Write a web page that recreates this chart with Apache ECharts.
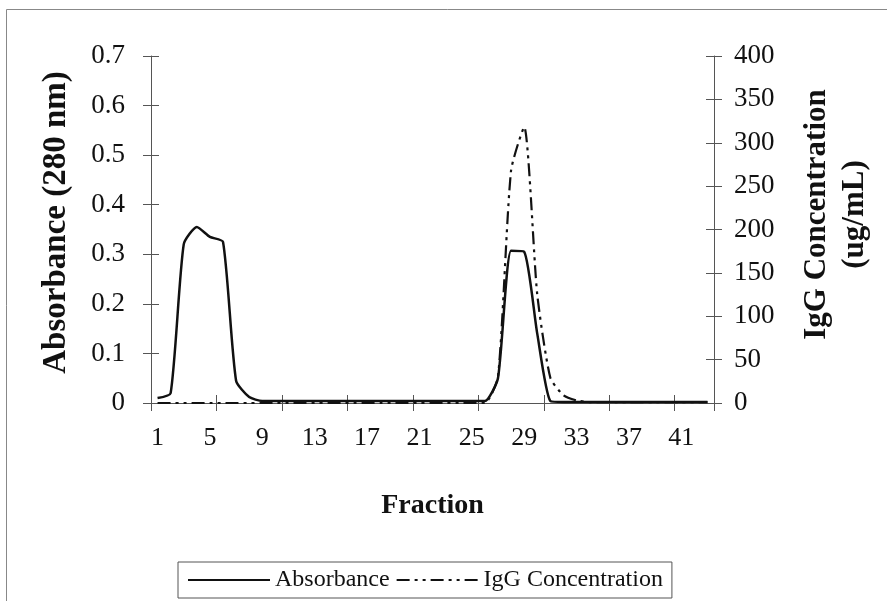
<!DOCTYPE html>
<html>
<head>
<meta charset="utf-8">
<script src="https://cdn.jsdelivr.net/npm/echarts@6/dist/echarts.min.js"></script>
<style>
html,body{margin:0;padding:0;background:#fff;}
#chart{width:887px;height:601px;}
</style>
</head>
<body>
<div id="chart"></div>
<script>
// Data
const fractions = [];
for (let i = 1; i <= 43; i++) fractions.push(String(i));
const absorbance = [0.01, 0.02, 0.32, 0.355, 0.335, 0.325, 0.045, 0.012, 0.004, 0.004,
  0.004, 0.004, 0.004, 0.004, 0.004, 0.004, 0.004, 0.004, 0.004, 0.004,
  0.004, 0.004, 0.004, 0.004, 0.004, 0.004, 0.05, 0.307, 0.305, 0.14,
  0.004, 0.002, 0.002, 0.002, 0.002, 0.002, 0.002, 0.002, 0.002, 0.002,
  0.002, 0.002, 0.002];
const igg = [0, 0, 0, 0, 0, 0, 0, 0, 0, 0,
  0, 0, 0, 0, 0, 0, 0, 0, 0, 0,
  0, 0, 0, 0, 0, 0, 30, 268, 318, 125,
  29, 9, 3, 1, 1, 1, 1, 1, 1, 1,
  1, 1, 1];
const seriesNames = ['Absorbance', 'IgG Concentration'];
const leftTitle = 'Absorbance (280 nm)';
const rightTitle = 'IgG Concentration\n(ug/mL)';
const xTitle = 'Fraction';

const FONT = '"Liberation Serif", "Times New Roman", serif';
const axisColor = '#555';

const chart = echarts.init(document.getElementById('chart'), null, {renderer: 'canvas'});
const option = {
  backgroundColor: '#fff',
  animation: false,
  graphic: [{
    type: 'rect', silent: true,
    shape: {x: 6.5, y: 9.5, width: 1000, height: 700},
    style: {fill: 'none', stroke: '#888', lineWidth: 1}
  }],
  grid: {left: 151, right: 173, top: 56, bottom: 198},
  legend: {
    left: 178, top: 562,
    padding: [6, 9, 6, 9],
    itemWidth: 82, itemHeight: 14, itemGap: 6,
    borderColor: '#555', borderWidth: 1,
    itemStyle: {color: 'rgba(0,0,0,0)', borderColor: 'rgba(0,0,0,0)', borderWidth: 0, opacity: 0},
    textStyle: {fontFamily: FONT, fontSize: 24, color: '#111'},
    data: seriesNames
  },
  xAxis: [{
    type: 'category', data: fractions, boundaryGap: true,
    name: xTitle, nameLocation: 'middle', nameGap: 89,
    nameTextStyle: {fontFamily: FONT, fontSize: 28, fontWeight: 'bold', color: '#111'},
    axisLine: {show: true, lineStyle: {color: axisColor, width: 1}},
    axisTick: {show: true, interval: 4, length: 8, lineStyle: {color: axisColor}},
    axisLabel: {interval: 3, margin: 22, fontFamily: FONT, fontSize: 26, color: '#111'},
    splitLine: {show: false}
  }, {
    type: 'category', data: fractions, boundaryGap: true, position: 'bottom',
    axisLine: {show: false},
    axisTick: {show: true, inside: true, interval: 4, length: 8, lineStyle: {color: axisColor}},
    axisLabel: {show: false}, splitLine: {show: false}
  }],
  yAxis: [{
    type: 'value', min: 0, max: 0.7, interval: 0.1, position: 'left',
    name: leftTitle, nameLocation: 'middle', nameGap: 78, nameRotate: 90,
    nameTextStyle: {fontFamily: FONT, fontSize: 33, fontWeight: 'bold', color: '#111',
      padding: [0, 0, 0, 14]},
    axisLine: {show: true, lineStyle: {color: axisColor, width: 1}},
    axisTick: {show: true, length: 8, lineStyle: {color: axisColor}},
    axisLabel: {margin: 26, fontFamily: FONT, fontSize: 27, color: '#111',
      formatter: v => (v === 0 ? '0' : v.toFixed(1))},
    splitLine: {show: false}
  }, {
    type: 'value', min: 0, max: 400, interval: 50, position: 'right',
    name: rightTitle, nameLocation: 'middle', nameGap: 84, nameRotate: 90,
    nameTextStyle: {fontFamily: FONT, fontSize: 31, fontWeight: 'bold', color: '#111', lineHeight: 38,
      padding: [0, 0, 0, 30]},
    axisLine: {show: true, lineStyle: {color: axisColor, width: 1}},
    axisTick: {show: true, length: 8, lineStyle: {color: axisColor}},
    axisLabel: {margin: 20, fontFamily: FONT, fontSize: 27, color: '#111'},
    splitLine: {show: false}
  }, {
    type: 'value', min: 0, max: 0.7, interval: 0.1, position: 'left',
    axisLine: {show: false},
    axisTick: {show: true, inside: true, length: 8, lineStyle: {color: axisColor}},
    axisLabel: {show: false}, splitLine: {show: false}
  }, {
    type: 'value', min: 0, max: 400, interval: 50, position: 'right',
    axisLine: {show: false},
    axisTick: {show: true, inside: true, length: 8, lineStyle: {color: axisColor}},
    axisLabel: {show: false}, splitLine: {show: false}
  }],
  series: [{
    name: seriesNames[0], type: 'line', xAxisIndex: 0, yAxisIndex: 0,
    data: absorbance, symbol: 'none', smooth: 0.2,
    lineStyle: {color: '#111', width: 2.5, type: 'solid'},
    itemStyle: {color: '#111'}, z: 3
  }, {
    name: seriesNames[1], type: 'line', xAxisIndex: 0, yAxisIndex: 1,
    data: igg, symbol: 'none', smooth: 0.2,
    lineStyle: {color: '#111', width: 2.2, type: [13, 5, 3, 5, 3, 5]},
    itemStyle: {color: '#111'}, z: 2
  }]
};
chart.setOption(option);
</script>
</body>
</html>
